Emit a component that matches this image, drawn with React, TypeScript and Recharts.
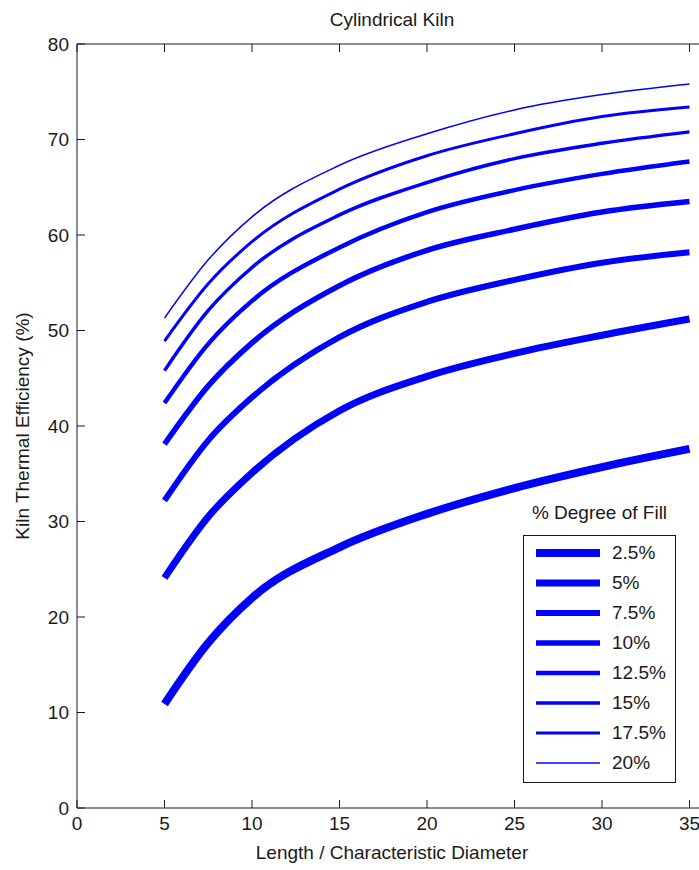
import React from 'react';
import { LineChart, Line, XAxis, YAxis, Legend } from 'recharts';

// x positions (length / characteristic diameter) where the curves were read
const lengthRatio = [5, 7.5, 10, 15, 20, 25, 30, 35];

// kiln thermal efficiency (%) per degree of fill
const fill2_5 = [10.9, 17.3, 22.0, 27.3, 30.8, 33.5, 35.7, 37.6];
const fill5 = [24.1, 30.5, 35.1, 41.6, 45.2, 47.6, 49.5, 51.2];
const fill7_5 = [32.2, 38.5, 43.0, 49.3, 53.0, 55.3, 57.1, 58.2];
const fill10 = [38.1, 44.2, 48.7, 54.7, 58.4, 60.6, 62.4, 63.5];
const fill12_5 = [42.4, 48.6, 53.1, 58.7, 62.4, 64.7, 66.4, 67.7];
const fill15 = [45.8, 52.1, 56.6, 62.1, 65.5, 68.0, 69.6, 70.8];
const fill17_5 = [48.9, 54.9, 59.3, 64.8, 68.3, 70.6, 72.4, 73.4];
const fill20 = [51.3, 57.4, 61.9, 67.3, 70.6, 73.1, 74.7, 75.8];

const fillLabels = ['2.5%', '5%', '7.5%', '10%', '12.5%', '15%', '17.5%', '20%'];
const xTicks = [0, 5, 10, 15, 20, 25, 30, 35];
const yTicks = [0, 10, 20, 30, 40, 50, 60, 70, 80];

const seriesKeys = ['f2_5', 'f5', 'f7_5', 'f10', 'f12_5', 'f15', 'f17_5', 'f20'];
const seriesValues = [fill2_5, fill5, fill7_5, fill10, fill12_5, fill15, fill17_5, fill20];
const lineWidths = [8, 7, 6, 5.5, 4.5, 3.5, 3, 1.5];

const data = lengthRatio.map((x, i) => {
  const row: Record<string, number> = { x };
  seriesKeys.forEach((k, s) => {
    row[k] = seriesValues[s][i];
  });
  return row;
});

const FONT = '"Liberation Sans", Arial, sans-serif';
const BLUE = '#0000ff';
const INK = '#1a1a1a';

const renderLegend = () => (
  <div style={{ width: 153, fontFamily: FONT, fontSize: 19, color: INK }}>
    <div style={{ textAlign: 'center', height: 35, lineHeight: '26px' }}>% Degree of Fill</div>
    <div
      style={{
        boxSizing: 'border-box',
        border: `1px solid ${INK}`,
        background: '#fff',
        height: 248,
        paddingTop: 2,
      }}
    >
      {fillLabels.map((label, i) => (
        <div key={label} style={{ display: 'flex', alignItems: 'center', height: 30 }}>
          <svg width={76} height={12} style={{ marginLeft: 12, display: 'block' }}>
            <line x1={0} x2={64} y1={6} y2={6} stroke={BLUE} strokeWidth={lineWidths[i]} />
          </svg>
          <span>{label}</span>
        </div>
      ))}
    </div>
  </div>
);

export default function App() {
  return (
    <div
      style={{
        position: 'absolute',
        left: 0,
        top: 0,
        width: 699,
        height: 870,
        overflow: 'hidden',
        background: '#fff',
      }}
    >
      <div
        style={{
          position: 'absolute',
          top: 9,
          left: 0,
          width: 784,
          textAlign: 'center',
          fontFamily: FONT,
          fontSize: 19,
          color: INK,
        }}
      >
        Cylindrical Kiln
      </div>
      <LineChart
        width={720}
        height={870}
        data={data}
        margin={{ top: 43, right: 13, bottom: 32, left: 17 }}
      >
        <XAxis
          dataKey="x"
          type="number"
          domain={[0, 36]}
          allowDataOverflow
          ticks={xTicks}
          height={30}
          tickSize={-8}
          tickMargin={17}
          axisLine={{ stroke: INK }}
          tickLine={{ stroke: INK }}
          tick={{ fill: INK, fontSize: 19, fontFamily: FONT }}
          label={{
            value: 'Length / Characteristic Diameter',
            position: 'bottom',
            offset: 8,
            style: { fill: INK, fontSize: 19, fontFamily: FONT },
          }}
        />
        <XAxis
          xAxisId="top"
          dataKey="x"
          orientation="top"
          type="number"
          domain={[0, 36]}
          allowDataOverflow
          ticks={xTicks}
          height={1}
          tickSize={-8}
          tickFormatter={() => ''}
          axisLine={{ stroke: INK }}
          tickLine={{ stroke: INK }}
        />
        <YAxis
          type="number"
          domain={[0, 80]}
          ticks={yTicks}
          width={60}
          tickSize={-8}
          tickMargin={16}
          axisLine={{ stroke: INK }}
          tickLine={{ stroke: INK }}
          tick={{ fill: INK, fontSize: 19, fontFamily: FONT }}
          label={{
            value: 'Kiln Thermal Efficiency (%)',
            angle: -90,
            position: 'insideLeft',
            offset: 5,
            style: { fill: INK, fontSize: 19, fontFamily: FONT, textAnchor: 'middle' },
          }}
        />
        <Legend
          layout="vertical"
          align="center"
          verticalAlign="middle"
          content={renderLegend}
          wrapperStyle={{ position: 'absolute', left: 523, top: 500, width: 153 }}
        />
        {seriesKeys.map((k, i) => (
          <Line
            key={k}
            dataKey={k}
            name={fillLabels[i]}
            type="monotone"
            stroke={BLUE}
            strokeWidth={lineWidths[i]}
            dot={false}
            activeDot={false}
            isAnimationActive={false}
          />
        ))}
      </LineChart>
    </div>
  );
}
